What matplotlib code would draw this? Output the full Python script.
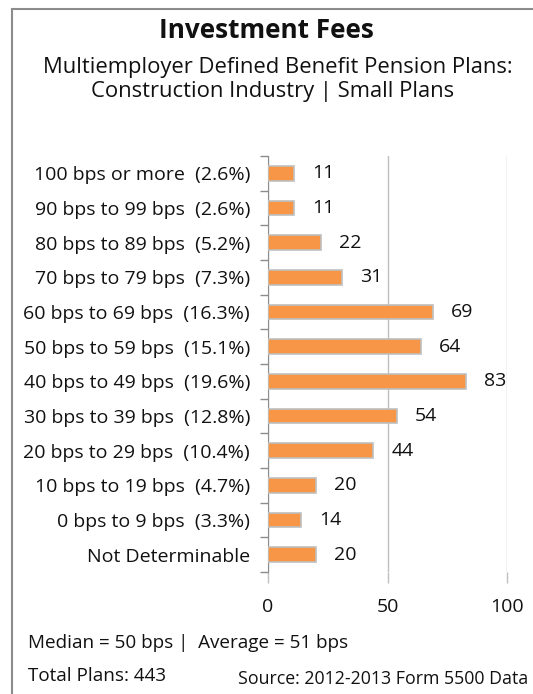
import matplotlib
matplotlib.use("Agg")
import matplotlib.pyplot as plt
from matplotlib.patches import Rectangle

plt.rcParams['font.family'] = ['Open Sans', 'DejaVu Sans']

categories = ["100 bps or more", "90 bps to 99 bps", "80 bps to 89 bps",
              "70 bps to 79 bps", "60 bps to 69 bps", "50 bps to 59 bps",
              "40 bps to 49 bps", "30 bps to 39 bps", "20 bps to 29 bps",
              "10 bps to 19 bps", "0 bps to 9 bps", "Not Determinable"]
shares = ["2.6%", "2.6%", "5.2%", "7.3%", "16.3%", "15.1%",
          "19.6%", "12.8%", "10.4%", "4.7%", "3.3%", None]
counts = [11, 11, 22, 31, 69, 64, 83, 54, 44, 20, 14, 20]
xticks = [0, 50, 100]

W, H = 533, 694
fig = plt.figure(figsize=(W / 100, H / 100), dpi=100)

# frame (only top and left fall inside the image)
fig.patches.append(Rectangle((12 / W, -0.05), 1.1, 1 - 9 / H + 0.05,
                             transform=fig.transFigure, fill=False,
                             edgecolor='#8c8c8c', linewidth=1.5))

ax = fig.add_axes([268 / W, 1 - 572 / H, 239 / W, 416 / H])
ypos = list(range(len(categories)))
ax.barh(ypos, counts, height=0.42, color='#F79646', edgecolor='#BFBFBF',
        linewidth=1.2, zorder=3)
for y, v in zip(ypos, counts):
    ax.annotate(str(v), (v, y), xytext=(13, 0), textcoords='offset points',
                ha='left', va='center', fontsize=14, color='#111111')

labels = []
for c, s in zip(categories, shares):
    labels.append(c if s is None else f"{c}  ({s})")
ax.set_yticks(ypos, labels)
ax.set_yticks([y - 0.5 for y in ypos] + [len(ypos) - 0.5], minor=True)
ax.tick_params(axis='y', which='major', length=0, pad=13, labelsize=14,
               labelcolor='#111111')
ax.tick_params(axis='y', which='minor', length=6, color='#8c8c8c', width=1)
ax.set_ylim(len(ypos) - 0.5, -0.5)

ax.set_xlim(0, 100)
ax.set_xticks(xticks)
ax.tick_params(axis='x', length=8, color='#BFBFBF', width=1, pad=11,
               labelsize=14, labelcolor='#111111')
ax.grid(axis='x', color='#BFBFBF', linewidth=1, zorder=0)
for s in ['top', 'right', 'bottom']:
    ax.spines[s].set_visible(False)
ax.spines['left'].set_color('#8c8c8c')

fig.text(266 / W, 1 - 31 / H, "Investment Fees", ha='center', va='center',
         fontsize=18.8, fontweight='bold', color='#111111')
fig.text(278 / W, 1 - 67 / H, "Multiemployer Defined Benefit Pension Plans:",
         ha='center', va='center', fontsize=15.8, color='#111111')
fig.text(273 / W, 1 - 92 / H, "Construction Industry | Small Plans",
         ha='center', va='center', fontsize=15.8, color='#111111')

fig.text(28 / W, 1 - 643 / H, "Median = 50 bps |  Average = 51 bps",
         ha='left', va='center', fontsize=13.6, color='#111111')
fig.text(28 / W, 1 - 676 / H, "Total Plans: 443",
         ha='left', va='center', fontsize=13.6, color='#111111')
fig.text(528 / W, 1 - 679 / H, "Source: 2012-2013 Form 5500 Data",
         ha='right', va='center', fontsize=12.8, color='#111111')

fig.savefig("out.png", dpi=100)
